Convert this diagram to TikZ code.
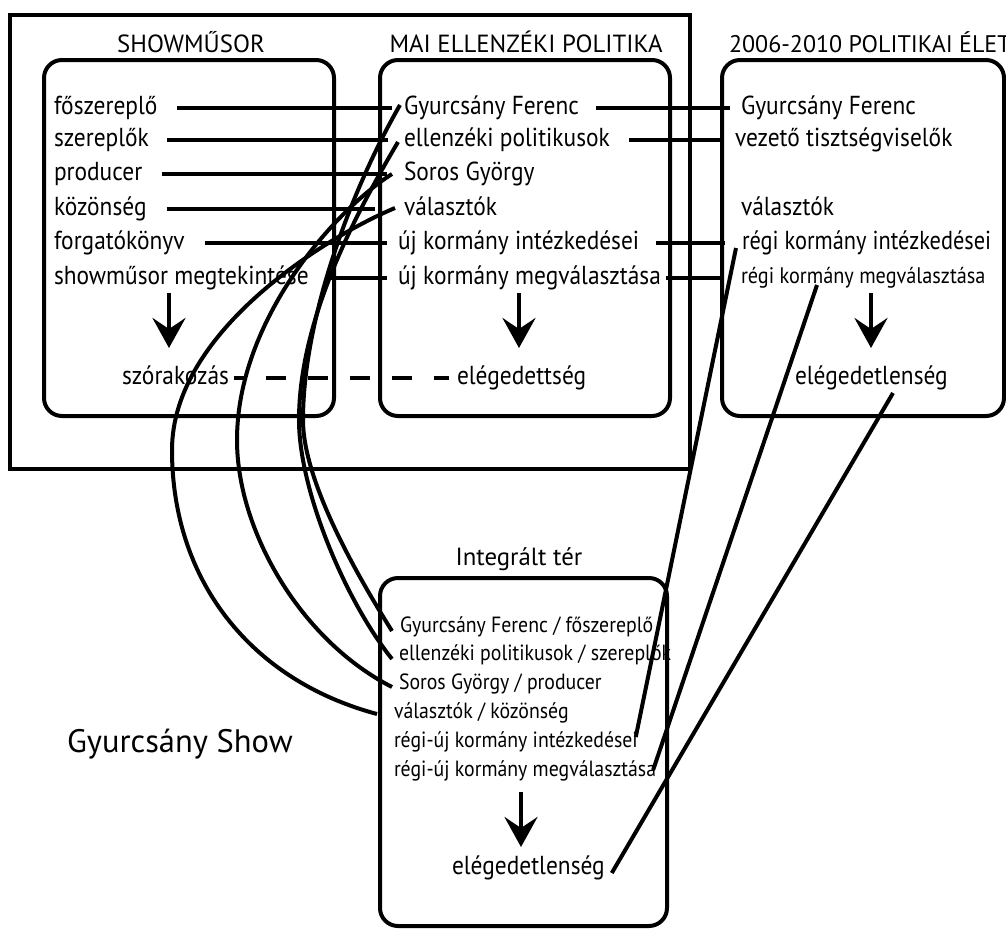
\documentclass[tikz,border=0pt]{standalone}
\usepackage{fontspec}
\setmainfont{PT Sans}
\newfontfamily\condf{PT Sans}[FakeStretch=0.9]
\newfontfamily\condg{PT Sans}[FakeStretch=0.86]
\usetikzlibrary{arrows.meta}
\newcommand\myfA{\condf\fontsize{26}{30}\selectfont}
\newcommand\myfB{\condf\fontsize{22}{26}\selectfont}
\newcommand\myfC{\condf\fontsize{22.5}{26}\selectfont}
\newcommand\myfD{\fontsize{32.5}{38}\selectfont}
\newcommand\myfE{\fontsize{24.8}{30}\selectfont}
\newcommand\myfH{\fontsize{24}{30}\selectfont}
\newcommand\myfG{\condg\fontsize{26}{30}\selectfont}
\begin{document}
\begin{tikzpicture}[x=1pt,y=-1pt,line width=4pt,
  box/.style={draw,line width=4pt,rounded corners=18pt},
  tx/.style={anchor=west,inner sep=0pt,text height=18pt,text depth=5pt,font=\myfA},
  txs/.style={anchor=west,inner sep=0pt,text height=15pt,text depth=4pt,font=\myfB},
  txc/.style={anchor=west,inner sep=0pt,text height=15pt,text depth=4pt,font=\myfC},
  head/.style={anchor=base,inner sep=0pt,font=\myfE},
  conn/.style={line width=4pt},
  arr/.style={line width=4pt,-{Stealth[length=30pt,width=33pt,inset=11pt]}}
]
\useasboundingbox (0,0) rectangle (1006,929);
% frames
\draw[line width=3.5pt] (10,15) rectangle (690,469);
\draw[box] (44,60) rectangle (334,416);
\draw[box] (380,60) rectangle (670,416);
\draw[box] (722,60) rectangle (1004,416);
\draw[box] (380,578) rectangle (667,926);
% headings
\node[head] (h1) at (191,52) {SHOWMŰSOR};
\node[head] (h2) at (526,52) {MAI ELLENZÉKI POLITIKA};
\node[head,anchor=base west,font=\myfH] (h3) at (727,52) {2006-2010 POLITIKAI ÉLET};
\node[head] (h4) at (519,565) {Integrált tér};
\node[anchor=base west,inner sep=0pt,font=\myfD] (gs) at (65,752) {Gyurcsány Show};
% box 1
\node[tx] (a1) at (52,108) {főszereplő};
\node[tx] (a2) at (52,140) {szereplők};
\node[tx] (a3) at (52,174) {producer};
\node[tx] (a4) at (52,209) {közönség};
\node[tx] (a5) at (52,243) {forgatókönyv};
\node[tx] (a6) at (52,278) {showműsor megtekintése};
\node[tx] (r1) at (120,378) {szórakozás};
% box 2
\node[tx] (b1) at (402,108) {Gyurcsány Ferenc};
\node[tx] (b2) at (402,140) {ellenzéki politikusok};
\node[tx] (b3) at (402,174) {Soros György};
\node[tx] (b4) at (402,209) {választók};
\node[tx] (b5) at (396,243) {új kormány intézkedései};
\node[tx] (b6) at (396,278) {új kormány megválasztása};
\node[tx] (r2) at (455,378) {elégedettség};
% box 3
\node[tx] (c1) at (739,108) {Gyurcsány Ferenc};
\node[tx] (c2) at (733,140) {vezető tisztségviselők};
\node[tx] (c4) at (739,209) {választók};
\node[tx,font=\myfG] (c5) at (740,243) {régi kormány intézkedései};
\node[txc] (c6) at (739,278) {régi kormány megválasztása};
\node[tx] (r3) at (793,378) {elégedetlenség};
% box 4
\node[txs] (d1) at (398,627) {Gyurcsány Ferenc / főszereplő};
\node[txs] (d2) at (397,655) {ellenzéki politikusok / szereplők};
\node[txs] (d3) at (397,684) {Soros György / producer};
\node[txs] (d4) at (392,713) {választók / közönség};
\node[txs] (d5) at (392,742) {régi-új kormány intézkedései};
\node[txs] (d6) at (392,771) {régi-új kormány megválasztása};
\node[tx] (r4) at (450,868) {elégedetlenség};
% arrows inside boxes
\coordinate (p1) at (169,293); \coordinate (q1) at (169,348);
\coordinate (p2) at (519,293); \coordinate (q2) at (519,348);
\coordinate (p3) at (871,293); \coordinate (q3) at (871,348);
\coordinate (p4) at (521,792); \coordinate (q4) at (521,847);
\draw[arr] (p1) -- (q1);
\draw[arr] (p2) -- (q2);
\draw[arr] (p3) -- (q3);
\draw[arr] (p4) -- (q4);
% box1 -> box2
\draw[conn] ([xshift=18pt]a1.east) -- ([xshift=-10pt]b1.west);
\draw[conn] ([xshift=16pt]a2.east) -- ([xshift=-14pt]b2.west);
\draw[conn] ([xshift=18pt]a3.east) -- ([xshift=-15pt]b3.west);
\draw[conn] ([xshift=18pt]a4.east) -- ([xshift=-27pt]b4.west);
\draw[conn] ([xshift=18pt]a5.east) -- ([xshift=-9pt]b5.west);
\draw[conn] ([xshift=18pt]a6.east) -- ([xshift=-9pt]b6.west);
% box2 -> box3
\draw[conn] ([xshift=15pt]b1.east) -- ([xshift=-9pt]c1.west);
\draw[conn] ([xshift=17pt]b2.east) -- ([xshift=-10pt]c2.west);
\draw[conn] ([xshift=15pt]b5.east) -- ([xshift=-15pt]c5.west);
\draw[conn] ([xshift=3pt]b6.east) -- ([xshift=-19pt]c6.west);
% dashed
\draw[conn,dash pattern=on 20pt off 22pt,dash phase=10pt] ([xshift=3pt]r1.east) -- ([xshift=-6pt]r2.west);
% curves box2 -> box4
\draw[conn] ([xshift=-2pt,yshift=3pt]b1.west) .. controls (350,192) and (303,320) .. (303,420)
  .. controls (303,480) and (355,572) .. ([xshift=-6pt,yshift=-4pt]d1.west);
\draw[conn] ([xshift=-4pt,yshift=-2pt]b2.west) .. controls (355,215) and (299,320) .. (299,420)
  .. controls (299,490) and (345,600) .. ([xshift=-5pt,yshift=-4pt]d2.west);
\draw[conn] ([xshift=-10pt]b3.west) .. controls (335,210) and (237,320) .. (237,440)
  .. controls (237,530) and (300,640) .. ([xshift=-5pt,yshift=-3pt]d3.west);
\draw[conn] ([xshift=-7pt,yshift=1pt]b4.west) .. controls (330,235) and (172,330) .. (172,450)
  .. controls (172,580) and (250,680) .. ([xshift=-15pt,yshift=-1pt]d4.west);
% straight lines box3 -> box4
\draw[conn] ([xshift=-4pt,yshift=-5pt]c5.west) -- ([xshift=-4pt,yshift=5pt]d5.east);
\draw[conn] ([xshift=78pt,yshift=-7pt]c6.west) -- ([xshift=-5pt,yshift=1pt]d6.east);
\draw[conn] ([xshift=100pt,yshift=-15pt]r3.west) -- ([xshift=5pt,yshift=-5pt]r4.east);
\end{tikzpicture}
\end{document}
